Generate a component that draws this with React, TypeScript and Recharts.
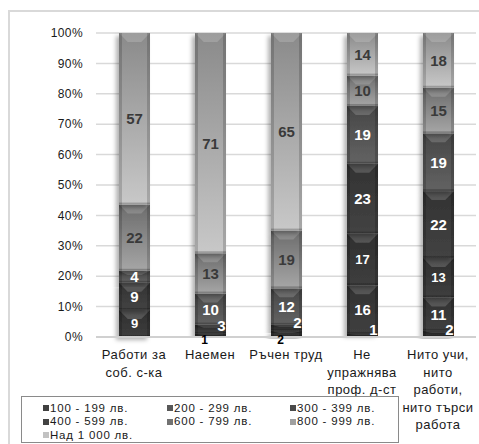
import { BarChart, Bar, XAxis, YAxis, CartesianGrid, LabelList } from 'recharts';

// Разпределение по доход според заетост (%)
const categories = [
  'Работи за\nсоб. с-ка',
  'Наемен',
  'Ръчен труд',
  'Не\nупражнява\nпроф. д-ст',
  'Нито учи,\nнито\nработи,\nнито търси\nработа',
];

const bands = [
  '100 - 199 лв.',
  '200 - 299 лв.',
  '300 - 399 лв.',
  '400 - 599 лв.',
  '600 - 799 лв.',
  '800 - 999 лв.',
  'Над 1 000 лв.',
];

const b100 = [0, 1, 2, 1, 2];
const b200 = [0, 3, 2, 16, 11];
const b300 = [9, 0, 0, 17, 13];
const b400 = [9, 0, 0, 23, 22];
const b600 = [4, 10, 12, 19, 19];
const b800 = [22, 13, 19, 10, 15];
const b1000 = [57, 71, 65, 14, 18];

const yTicks = [0, 0.1, 0.2, 0.3, 0.4, 0.5, 0.6, 0.7, 0.8, 0.9, 1];

const bandValues = [b100, b200, b300, b400, b600, b800, b1000];

// градиент (горе, долу), цвят и размер на етикета, маркер в легендата
const gradTop = ['#2b2b2b', '#313131', '#2f2f2f', '#323232', '#474747', '#6c6c6c', '#8a8a8a'];
const gradBottom = ['#3a3a3a', '#404040', '#3e3e3e', '#434343', '#626262', '#a6a6a6', '#c8c8c8'];
const labelFill = ['#fff', '#fff', '#fff', '#fff', '#fff', '#3a3a3a', '#3a3a3a'];
const labelSize = [15, 15, 13, 15, 15, 15, 15];
const legendFill = ['#404040', '#585858', '#4a4a4a', '#424242', '#727272', '#a0a0a0', '#c2c2c2'];

const data = categories.map((name, i) => {
  const row: Record<string, string | number> = { name };
  bandValues.forEach((vals, s) => {
    row[`s${s}`] = vals[i];
  });
  return row;
});

const FONT = 'Arial, "Liberation Sans", sans-serif';

const BevelBar = (props: any) => {
  const { x, y, width: w, height: h, si } = props;
  if (!h || h <= 0.5) return null;
  const d = Math.min(9, h * 0.35);
  const ins = w * 0.28;
  return (
    <g filter="url(#barShadow)">
      <rect x={x} y={y} width={w} height={h} fill={`url(#grad${si})`} />
      <polygon
        points={`${x},${y} ${x + w},${y} ${x + w - ins},${y + d} ${x + ins},${y + d}`}
        fill="#fff"
        fillOpacity={0.17}
      />
      <rect x={x} y={y} width={3} height={h} fill="#000" fillOpacity={0.16} />
      <rect x={x + w - 3} y={y} width={3} height={h} fill="#000" fillOpacity={0.16} />
      <rect x={x} y={y + h - Math.min(2, h / 3)} width={w} height={Math.min(2, h / 3)} fill="#000" fillOpacity={0.22} />
    </g>
  );
};

const makeLabel = (si: number) => (p: any) => {
  const { x, y, width, height, value, index } = p;
  if (!value) return null;
  const cx = x + width / 2;
  let tx = cx;
  let ty = y + height / 2;
  let fill = labelFill[si];
  let size = labelSize[si];
  if (value <= 3) {
    // тънките сегменти — етикетът отива под оста или вдясно долу
    if (si === 0 && b200[index] > 0 && b200[index] <= 3) {
      tx = cx - 6;
      ty = y + height + 3;
      fill = '#000';
      size = 12;
    } else {
      tx = cx + 11;
      ty = y + height - 8;
    }
  }
  return (
    <text
      x={tx}
      y={ty}
      textAnchor="middle"
      dominantBaseline="central"
      fontFamily={FONT}
      fontWeight="bold"
      fontSize={size}
      fill={fill}
    >
      {value}
    </text>
  );
};

const CategoryTick = ({ x, y, payload }: any) => {
  const lines = String(payload.value).split('\n');
  return (
    <text
      x={x}
      y={y}
      textAnchor="middle"
      fontSize={13}
      letterSpacing={0.5}
      fill="#1a1a1a"
      fontFamily={FONT}
    >
      {lines.map((l, i) => (
        <tspan key={i} x={x} dy={i === 0 ? 22 : 17.5}>
          {l}
        </tspan>
      ))}
    </text>
  );
};

const legendX = [21, 145, 268];
const legendY = [11, 24.5, 38];

export default function App() {
  return (
    <div
      style={{
        position: 'absolute',
        left: 0,
        top: 0,
        width: 479,
        height: 444,
        background: '#fff',
        overflow: 'hidden',
        fontFamily: FONT,
      }}
    >
      <div
        style={{
          position: 'absolute',
          left: 8,
          top: 10,
          width: 490,
          height: 450,
          border: '2px solid #d9d9d9',
        }}
      />
      <div style={{ position: 'absolute', left: 0, top: 0 }}>
        <BarChart
          width={479}
          height={444}
          data={data}
          stackOffset="expand"
          barSize={31}
          margin={{ top: 33, right: 3, bottom: 77, left: 0 }}
        >
          <defs>
            {bands.map((_, s) => (
              <linearGradient key={s} id={`grad${s}`} x1="0" y1="0" x2="0" y2="1">
                <stop offset="0%" stopColor={gradTop[s]} />
                <stop offset="100%" stopColor={gradBottom[s]} />
              </linearGradient>
            ))}
            <filter id="barShadow" x="-40%" y="-20%" width="180%" height="150%">
              <feDropShadow dx={-3} dy={3} stdDeviation={2} floodColor="#000" floodOpacity={0.3} />
            </filter>
          </defs>
          <CartesianGrid vertical={false} stroke="#d9d9d9" strokeWidth={1.5} />
          <XAxis
            dataKey="name"
            interval={0}
            tickLine={false}
            tickSize={0}
            tickMargin={0}
            height={30}
            axisLine={{ stroke: '#d0d0d0', strokeWidth: 2 }}
            tick={<CategoryTick />}
          />
          <YAxis
            width={96}
            domain={[0, 1]}
            ticks={yTicks}
            axisLine={false}
            tickLine={false}
            tickSize={0}
            tickMargin={13}
            tickFormatter={(v: number) => `${Math.round(v * 100)}%`}
            tick={{ fontSize: 12, fill: '#1a1a1a', fontFamily: FONT, letterSpacing: 0.4 }}
          />
          {bands.map((band, s) => (
            <Bar
              key={band}
              dataKey={`s${s}`}
              name={band}
              stackId="a"
              fill={gradBottom[s]}
              isAnimationActive={false}
              shape={(p: any) => <BevelBar {...p} si={s} />}
            >
              <LabelList dataKey={`s${s}`} content={makeLabel(s)} />
            </Bar>
          ))}
        </BarChart>
      </div>
      <div
        style={{
          position: 'absolute',
          left: 21,
          top: 396,
          width: 376,
          height: 45,
          border: '1px solid #8a8a8a',
          background: '#fff',
        }}
      >
        {bands.map((band, i) => (
          <div
            key={band}
            style={{
              position: 'absolute',
              left: legendX[i % 3],
              top: legendY[Math.floor(i / 3)] - 6.5,
              height: 13,
              lineHeight: '13px',
              display: 'flex',
              alignItems: 'center',
              fontSize: 11.5,
              letterSpacing: 0.8,
              color: '#1a1a1a',
              whiteSpace: 'nowrap',
            }}
          >
            <span
              style={{
                display: 'inline-block',
                width: 6,
                height: 6,
                background: legendFill[i],
                marginRight: 1,
              }}
            />
            {band}
          </div>
        ))}
      </div>
    </div>
  );
}
